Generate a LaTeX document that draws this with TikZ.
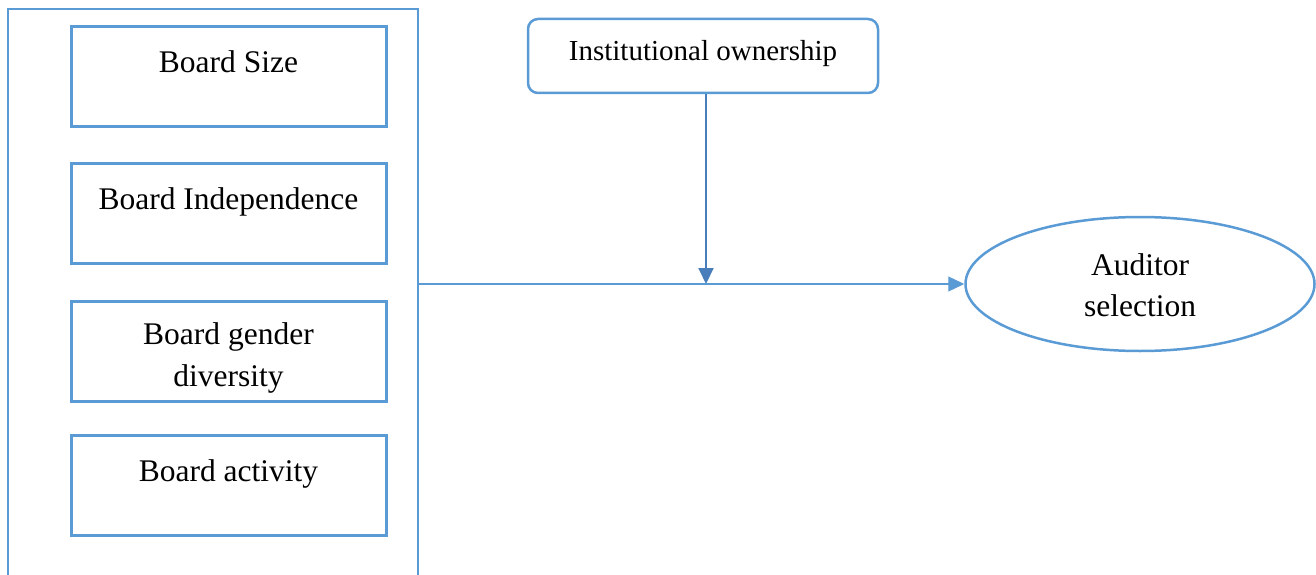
\documentclass[tikz,border=0pt]{standalone}
\usepackage{fontspec}
\setmainfont{Liberation Serif}
\usetikzlibrary{arrows.meta,shapes.geometric}
\definecolor{bl}{HTML}{5B9BD5}
\definecolor{dbl}{HTML}{4A7EBB}
\begin{document}
\begin{tikzpicture}[x=1pt,y=-1pt,
  vbox/.style={draw=bl,line width=3pt,minimum width=315pt,minimum height=100pt,inner sep=0pt},
  lbl/.style={anchor=base,font=\fontsize{31.5}{42}\selectfont,align=center,inner sep=0pt},
  tip/.style={-{Triangle[length=16pt,width=15pt]}}]
\useasboundingbox (0,0) rectangle (1316,575);
\node[draw=bl,line width=2.2pt,minimum width=410pt,minimum height=600pt,inner sep=0pt] (grp) at (213,309) {};
\node[vbox] (b1) at (228.5,77) {};
\node[vbox] (b2) at (228.5,213) {};
\node[vbox] (b3) at (228.5,351) {};
\node[vbox] (b4) at (228.5,485) {};
\node[lbl] (t1) at (228.5,73) {Board Size};
\node[lbl] (t2) at (228.5,209) {Board Independence};
\node[lbl] (t3) at (228.5,386) {Board gender\\diversity};
\node[lbl] (t4) at (228.5,481) {Board activity};
\node[draw=bl,line width=2.5pt,rounded corners=10pt,minimum width=350pt,minimum height=74pt,inner sep=0pt] (inst) at (703,56) {};
\node[lbl,font=\fontsize{29}{32}\selectfont] (ti) at (703,61) {Institutional ownership};
\node[draw=bl,line width=2.5pt,ellipse,minimum width=349pt,minimum height=134pt,inner sep=0pt] (ell) at (1140,284) {};
\node[lbl,font=\fontsize{31.5}{41}\selectfont] (te) at (1140,316) {Auditor\\selection};
\draw[dbl,line width=2pt,tip] ([xshift=3pt]inst.south) -- ([xshift=3pt]inst.south |- ell.west);
\draw[bl,line width=1.2pt,tip] (grp.east |- ell.west) -- (ell.west);
\end{tikzpicture}
\end{document}
